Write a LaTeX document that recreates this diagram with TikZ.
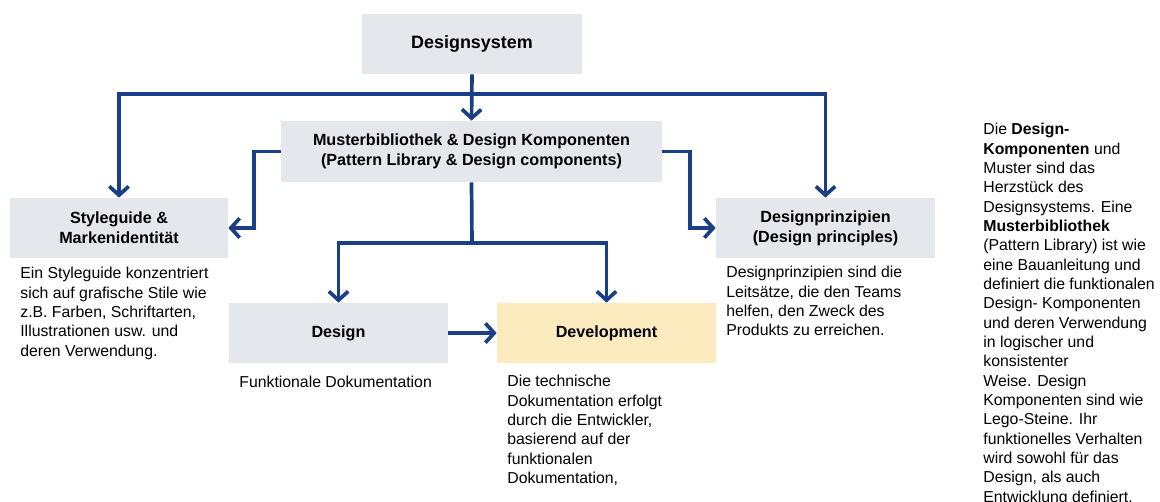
\documentclass[tikz,border=0pt]{standalone}
\usepackage{fontspec}
\setmainfont{Liberation Sans}
\usetikzlibrary{arrows.meta}

\definecolor{boxgray}{RGB}{228,231,236}
\definecolor{devyellow}{RGB}{253,235,192}
\definecolor{linkblue}{RGB}{27,63,134}

\begin{document}
\begin{tikzpicture}[x=0.02cm, y=-0.02cm,
    box/.style={fill=boxgray, minimum width=4.38cm, minimum height=1.2cm, align=center,
      font=\fontsize{9.2}{11.5}\selectfont\bfseries},
    link/.style={linkblue, line width=2.1pt},
    conn/.style={link, -{Straight Barb[length=5pt,width=11pt]}},
    desc/.style={anchor=north west, align=left, inner sep=0pt, font=\fontsize{9}{11}\selectfont}]
  \useasboundingbox (0,0) rectangle (1160,501);
  % Designsystem box on top
  \node[box, minimum width=4.4cm, font=\fontsize{10.2}{12}\selectfont\bfseries] (sys) at (472,44) {Designsystem};
  % pattern library in the middle
  \node[box, minimum width=7.62cm, minimum height=1.22cm] (muster) at (471.5,151.5)
    {Musterbibliothek \& Design Komponenten\\(Pattern Library \& Design components)};
  % styleguide and principles left and right
  \node[box, minimum width=4.36cm] (style) at (119,228) {Styleguide \&\\Markenidentität};
  \node[box] (prinz) at (825.5,228) {Designprinzipien\\(Design principles)};
  % design and development below
  \node[box] (design) at (338.5,333) {Design};
  \node[box, fill=devyellow] (dev) at (606.5,333) {Development};

  % connectors
  \coordinate (split) at (472,94);
  \coordinate (fork) at (472,243);
  \draw[conn] (sys.south) -- (muster.north);
  \draw[conn] (split) -| (style.north);
  \draw[conn] (split) -| (prinz.north);
  \draw[conn] (muster.west) -- ++(-27,0) |- (style.east);
  \draw[conn] (muster.east) -- ++(28,0) |- (prinz.west);
  \draw[link] (muster.south) -- (fork);
  \draw[conn] (fork) -| (design.north);
  \draw[conn] (fork) -| (dev.north);
  \draw[conn] (design.east) -- (dev.west);

  % descriptions under the boxes
  \node[desc] (styletxt) at (20,267) {Ein Styleguide konzentriert\\sich auf grafische Stile wie\\z.B. Farben, Schriftarten,\\Illustrationen usw. und\\deren Verwendung.};
  \node[desc] (prinztxt) at (726,266) {Designprinzipien sind die\\Leitsätze, die den Teams\\helfen, den Zweck des\\Produkts zu erreichen.};
  \node[desc] (designtxt) at (239,376) {Funktionale Dokumentation};
  \node[desc] (devtxt) at (507,375) {Die technische\\Dokumentation erfolgt\\durch die Entwickler,\\basierend auf der\\funktionalen\\Dokumentation,};
  % side note
  \node[desc] (note) at (983,123) {Die \textbf{Design-}\\\textbf{Komponenten} und\\Muster sind das\\Herzstück des\\Designsystems. Eine\\\textbf{Musterbibliothek}\\(Pattern Library) ist wie\\eine Bauanleitung und\\definiert die funktionalen\\Design- Komponenten\\und deren Verwendung\\in logischer und\\konsistenter\\Weise. Design\\Komponenten sind wie\\Lego-Steine. Ihr\\funktionelles Verhalten\\wird sowohl für das\\Design, als auch\\Entwicklung definiert.};
\end{tikzpicture}
\end{document}
